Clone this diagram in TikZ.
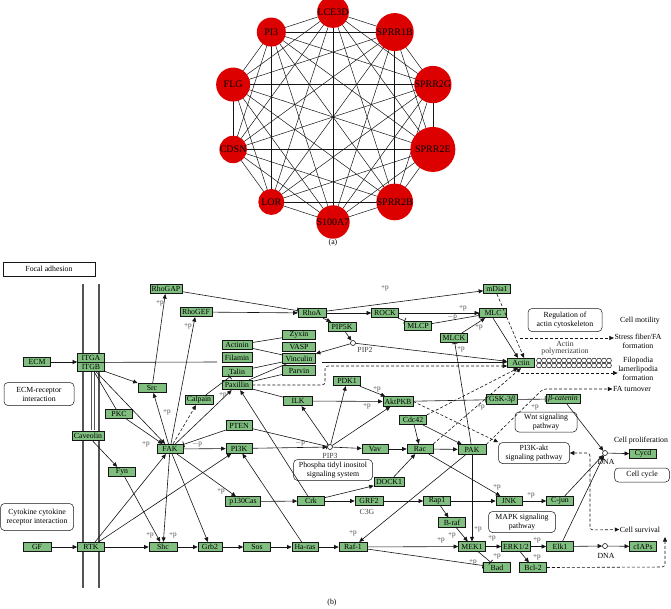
\documentclass[tikz,border=0pt]{standalone}
\usepackage{fontspec}
\setmainfont{Liberation Serif}
\usetikzlibrary{arrows.meta,calc,positioning}
\definecolor{Leaf}{HTML}{80BF80}
\definecolor{Ruby}{HTML}{DD0000}
\definecolor{Ink}{HTML}{151515}
\definecolor{Wall}{HTML}{555555}
\newcommand{\gene}[5][27]{%
  \node[genebox,minimum width=#1pt] (#2) at (#4,#5) {#3};}
\newcommand{\pathbox}[5]{%
  \node[roundbox,minimum width=#4pt,minimum height=#5pt] (#1) at (#3) {#2};}

\begin{document}
\begin{tikzpicture}[x=1pt,y=-1pt,
    genebox/.style={draw=Ink,line width=0.7pt,fill=Leaf,minimum height=9.5pt,inner sep=0.5pt,
      font=\fontsize{7.8}{8}\selectfont},
    hubnode/.style={circle,fill=Ruby,inner sep=0pt,font=\fontsize{10}{11}\selectfont},
    roundbox/.style={draw=Ink,line width=0.5pt,rounded corners=4pt,align=center,inner sep=1pt,
      font=\fontsize{7.8}{9}\selectfont},
    txt/.style={inner sep=0.5pt,align=center,font=\fontsize{7.8}{9}\selectfont},
    plabel/.style={inner sep=0pt,font=\fontsize{7.2}{8}\selectfont,text=Ink!80},
    dot/.style={circle,draw=Ink,line width=0.6pt,fill=white,minimum size=5pt,inner sep=0pt},
    link/.style={line width=0.5pt,Ink},
    act/.style={-{Triangle[length=4.5pt,width=4pt]},line width=0.6pt,Ink},
    inh/.style={-{Bar[width=6pt,line width=0.7pt]},line width=0.6pt,Ink},
    dsh/.style={act,dash pattern=on 3pt off 2pt},
    plain/.style={line width=0.6pt,Ink}]
  \useasboundingbox (0,0) rectangle (671,608);

  % (a) interaction network
  \foreach \ang [count=\i] in {-90,-54,-18,18,54,90,126,162,198,234}
    \coordinate (c\i) at ($(333,117)+(\ang:105)$);
  \foreach \i in {1,...,9}{
    \pgfmathtruncatemacro{\nx}{\i+1}
    \foreach \j in {\nx,...,10}
      \draw[link] (c\i) -- (c\j);
  }
  \foreach \nm/\sz [count=\i] in {LCE3D/25,SPRR1B/38,SPRR2G/23,SPRR2E/45,SPRR2B/29,
      S100A7/26,LOR/26,CDSN/25,FLG/34,PI3/29}
    \node[hubnode,minimum size=\sz pt] (n\i) at (c\i) {\nm};
  \node[txt] (capa) at (333,243) {(a)};

  % (b) focal adhesion
  \node[draw=Ink,line width=0.6pt,minimum width=92pt,minimum height=14pt,inner sep=0pt,
    font=\fontsize{7.8}{9}\selectfont] (focal) at (49,269) {Focal adhesion};
  \draw[Wall,line width=1.6pt] (83,284) -- (83,588) (99,284) -- (99,588);
  \draw[Wall,line width=0.7pt] (91.5,371) -- (91.5,430) (94.5,371) -- (94.5,430);

  \pathbox{ecmbox}{ECM-receptor\\interaction}{39,394}{70}{23}
  \pathbox{cytobox}{Cytokine cytokine\\receptor interaction}{37,517}{73}{27}
  \pathbox{regbox}{Regulation of\\actin cytoskeleton}{565,320}{74}{23}
  \pathbox{phosbox}{Phospha tidyl inositol\\signaling system}{333,470}{79}{21}
  \pathbox{wntbox}{Wnt signaling\\pathway}{546,422}{62}{20}
  \pathbox{aktbox}{PI3K-akt\\signaling pathway}{534,453}{71}{21}
  \pathbox{mapkbox}{MAPK signaling\\pathway}{522,522}{67}{21}
  \pathbox{cycbox}{Cell cycle}{642,475}{55}{14}

  \gene[32]{rhogap}{RhoGAP}{166}{289}
  \gene[32]{rhogef}{RhoGEF}{196}{312}
  \gene[28]{rhoa}{RhoA}{312}{313}
  \gene{rock}{ROCK}{385}{313}
  \gene[28]{pipk}{PIP5K}{342}{327}
  \gene{mlcp}{MLCP}{418}{326}
  \gene{mdia}{mDia1}{497}{289}
  \gene{mlc}{MLC}{493}{313}
  \gene{mlck}{MLCK}{454}{338}
  \gene{actin}{Actin}{521}{363}
  \gene[33]{zyxin}{Zyxin}{299}{335}
  \gene[33]{vasp}{VASP}{299}{347}
  \gene[33]{vinc}{Vinculin}{299}{358.5}
  \gene[33]{parvin}{Parvin}{299}{370.5}
  \gene[30]{actinin}{Actinin}{237}{345}
  \gene[30]{filamin}{Filamin}{237}{357.5}
  \gene[30]{talin}{Talin}{237}{371.5}
  \gene[30]{paxillin}{Paxillin}{237}{385}
  \gene{ecm}{ECM}{37}{362}
  \node[genebox,minimum width=27pt,minimum height=9pt] (itga) at (91,357.5) {ITGA};
  \node[genebox,minimum width=27pt,minimum height=9pt] (itgb) at (91,366.5) {ITGB};
  \gene[28]{src}{Src}{152}{388}
  \gene{pkc}{PKC}{119}{414}
  \gene[28]{calpain}{Calpain}{199}{400}
  \gene[32]{caveolin}{Caveolin}{88}{436}
  \gene[26]{fak}{FAK}{170}{449}
  \gene{fyn}{Fyn}{122}{472}
  \gene[28]{gf}{GF}{37}{547}
  \gene{rtk}{RTK}{91}{547}
  \gene[28]{shc}{Shc}{163}{547}
  \gene[24]{grb}{Grb2}{210}{547}
  \gene{sos}{Sos}{257}{547}
  \gene[26]{hras}{Ha-ras}{305}{547}
  \gene[28]{raf}{Raf-1}{353}{547}
  \gene[29]{ilk}{ILK}{298}{401}
  \gene{pdk}{PDK1}{347}{381}
  \gene[30]{akt}{AktPKB}{398}{401.5}
  \gene[26]{pten}{PTEN}{239}{425.5}
  \gene[26]{pik}{PI3K}{239}{448.5}
  \gene{cdc}{Cdc42}{413}{420}
  \gene[26]{vav}{Vav}{375}{449}
  \gene[26]{rac}{Rac}{420}{449}
  \gene[28]{pak}{PAK}{472}{449.5}
  \gene[30]{dock}{DOCK1}{389}{482}
  \gene[35]{cas}{p130Cas}{243}{501.5}
  \gene{crk}{Crk}{311}{501}
  \gene[28]{grf}{GRF2}{369}{501}
  \gene{rap}{Rap1}{437}{501}
  \gene[26]{jnk}{JNK}{509}{501}
  \gene{cjun}{C-jun}{560}{501}
  \gene{braf}{B-raf}{452}{522.5}
  \gene{mek}{MEK1}{472}{546.5}
  \gene[29]{erk}{ERK1/2}{516}{546.5}
  \gene{elk}{Elk1}{560}{546.5}
  \gene{ciap}{cIAPs}{643}{546.5}
  \gene{bad}{Bad}{497}{567.5}
  \gene{bcl}{Bcl-2}{533}{567.5}
  \gene[31]{gsk}{GSK-3\textit{β}}{502}{399.5}
  \gene[34]{bcat}{\textit{β-catenin}}{563}{399}
  \gene{cycd}{Cycd}{643}{454}

  \node[dot] (pip2) at (353,343) {};
  \node[dot] (pip3) at (330,447) {};
  \node[dot] (dnaa) at (605,453) {};
  \node[dot] (dnab) at (605,546) {};
  \node[txt,text=Ink!80] (pip2lbl) at (365,350) {PIP2};
  \node[txt,text=Ink!80] (pip3lbl) at (330,456) {PIP3};
  \node[txt] (dnaalbl) at (606,462) {DNA};
  \node[txt] (dnablbl) at (606,555.5) {DNA};
  \node[txt,text=Ink!80] (c3g) at (367,512) {C3G};

  % actin polymerization
  \foreach \k in {0,...,14}{
    \draw[line width=0.5pt,fill=white] (539+\k*5,360.5) circle (2.4);
    \draw[line width=0.5pt,fill=white] (539+\k*5,365.5) circle (2.4);
  }
  \node[txt,text=Ink!85] (polym) at (565,348.5) {Actin\\[-2pt]polymerization};
  \node[txt] (motil) at (640,321) {Cell motility};
  \node[txt] (stress) at (638,341) {Stress fiber/FA\\formation};
  \node[txt] (filo) at (638,369) {Filopodia\\lamerlipodia\\formation};
  \node[txt] (faturn) at (632,389) {FA turnover};
  \node[txt] (prolif) at (641,441) {Cell proliferation};
  \node[txt] (surv) at (640,529.5) {Cell survival};
  \node[txt] (capb) at (332,603) {(b)};

  % activation
  \foreach \a/\b in {gf/rtk,rtk/shc,shc/grb,grb/sos,sos/hras,hras/raf,raf/mek,mek/erk,erk/elk,
      elk/dnab,dnab/ciap,dnaa/cycd,jnk/cjun,rap/jnk,grf/rap,crk/grf,cas/crk,pik/pip3,pip3/vav,
      vav/rac,rac/pak,ilk/akt,rhogef/rhoa,rhoa/rock,rock/mlc,fak/pik,itgb/src,itgb/fak,pkc/fak,
      caveolin/fyn,fyn/shc,fak/shc,fak/grb,fak/cas,rtk/fak,rtk/pik,hras/pik,fak/src,src/rhogap,
      fak/rhogef,fak/paxillin,crk/paxillin,crk/dock,dock/rac,cdc/rac,cdc/pak,pak/raf,pak/mek,
      braf/mek,rap/braf,rac/jnk,erk/bcl,cjun/dnaa,elk/dnaa,bcat/dnaa,pip3/ilk,pip3/pdk,pip3/akt,
      pdk/akt,rhoa/pipk,pipk/pip2,pip2/vinc,pip2/actin,rhoa/mdia,mlck/mlc}
    \draw[act] (\a) -- (\b);
  \draw[act] (ecm) -- (ecm -| itga.west);
  \draw[act] (mlc.south) -- ([xshift=-3pt]actin.north);

  % inhibition
  \foreach \a/\b in {rhogap/rhoa,rock/mlcp,mlcp/mlc,pten/fak,pten/pip3,akt/gsk,gsk/bcat,
      pak/mlck,calpain/talin,raf/bad,mek/bad}
    \draw[inh] (\a) -- (\b);

  % plain binding
  \foreach \a/\b in {actinin/zyxin,actinin/vinc,talin/vinc,paxillin/vinc,paxillin/parvin,
      paxillin/ilk,itgb/pkc}
    \draw[plain] (\a) -- (\b);
  \coordinate (itgend) at (217,362);
  \coordinate (itgres) at (322,362);
  \draw[plain] (itga.south east) -- (itgend);
  \draw[act] (itgres) -- (itgres -| actin.west);

  % indirect
  \coordinate (sfx) at (520,338);
  \coordinate (flx) at (521,373);
  \coordinate (fax) at (543,389);
  \draw[dsh] (fak) -- (calpain);
  \draw[dsh] (mdia.south) -- ([xshift=3pt]actin.north);
  \draw[dsh] (rac.north east) -- (actin.south);
  \draw[dsh] (cdc.north east) -- ([xshift=-3pt]actin.south);
  \draw[dsh] (akt.east) -- (aktbox.north west);
  \draw[dsh,rounded corners=3pt] (paxillin.east) -- (325,385) -- (325,366) -- (actin.west |- 0,366);
  \draw[dsh] (sfx) -- (sfx -| stress.west);
  \draw[dsh] (flx) -- (flx -| filo.west);
  \draw[dsh,rounded corners=3pt] (pak.north east) -- (fax) -- (fax -| faturn.west);
  \draw[dsh,{Triangle[length=4.5pt,width=4pt]}-{Triangle[length=4.5pt,width=4pt]},rounded corners=3pt]
    (aktbox.east) -- (590,453) -- (590,530) -- (surv.west);
  \draw[dsh,rounded corners=3pt] (bcl.east) -- (665,567) -- (665,537);

  % phosphorylation labels
  \foreach \x/\y/\s [count=\i] in {160/303/+p,188/326/+p,167/412/+p,223/395/+p,146/444/+p,
      197/444/$-$p,221/491/+p,150/535/+p,173/535/+p,300/443/$-$p,367/406/+p,377/389/+p,
      385/288/+p,463/308/+p,452/317/$-$p,479/327/+p,461/349/+p,481/407/+p,535/407/+p,
      497/487/+p,531/495/+p,353/533/+p,478/529/+p,452/535/+p,441/540/+p,492/538/+p,
      537/540/+p,497/556/+p,473/562/+p,537/557/+p}
    \node[plabel] (p\i) at (\x,\y) {\s};
\end{tikzpicture}
\end{document}
